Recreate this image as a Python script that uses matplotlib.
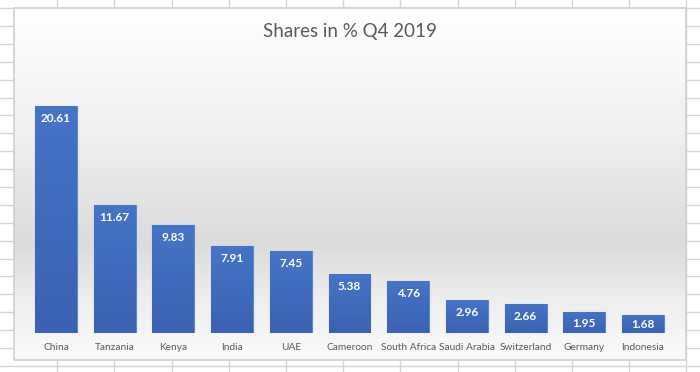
import numpy as np
import matplotlib
matplotlib.use("Agg")
import matplotlib.pyplot as plt
from matplotlib.colors import LinearSegmentedColormap
from matplotlib.patches import Rectangle

countries = ["China", "Tanzania", "Kenya", "India", "UAE", "Cameroon",
             "South Africa", "Saudi Arabia", "Switzerland", "Germany", "Indonesia"]
shares = [20.61, 11.67, 9.83, 7.91, 7.45, 5.38, 4.76, 2.96, 2.66, 1.95, 1.68]
title = "Shares in % Q4 2019"

W, H = 700, 372
plt.rcParams["font.family"] = ["Lato", "DejaVu Sans"]
fig = plt.figure(figsize=(W / 100, H / 100), dpi=100)

# spreadsheet grid behind the chart
bg = fig.add_axes([0, 0, 1, 1])
bg.set_xlim(0, W); bg.set_ylim(H, 0); bg.axis("off")
for x in np.arange(57.2, W, 57.2):
    bg.axvline(x, color="#d4d4d4", lw=1)
for y in np.arange(8.1, H, 17.89):
    bg.axhline(y, color="#d4d4d4", lw=1)

# chart area with soft vertical gradient
cx0, cy0, cx1, cy1 = 14, 8, 686, 360
stops = [(0.0, "#ffffff"), (0.37, "#efefef"), (0.67, "#dbdbdb"),
         (0.83, "#eeeeee"), (1.0, "#fafafa")]
cmap = LinearSegmentedColormap.from_list("bgc", stops)
grad = np.linspace(0, 1, 256).reshape(-1, 1)
bg.imshow(grad, cmap=cmap, extent=(cx0, cx1, cy1, cy0), aspect="auto", zorder=2)
bg.add_patch(Rectangle((cx0, cy0), cx1 - cx0, cy1 - cy0, fill=False,
                       ec="#d0d0d0", lw=1.2, zorder=3))
bg.set_xlim(0, W); bg.set_ylim(H, 0)
bg.text(350, 32, title, ha="center", va="center", fontsize=13.5,
        color="#595959", zorder=4)

# bars
ax = fig.add_axes([26.65 / W, (H - 333) / H, 645.7 / W, 275 / H])
ax.patch.set_alpha(0)
x = np.arange(len(countries))
bars = ax.bar(x, shares, width=0.715, color="#4472c4", ec="#5b86d2", lw=0.8, zorder=2)
bar_cmap = LinearSegmentedColormap.from_list("bar", ["#4674c6", "#3a62b2"])
for b in bars:
    bx, by, bw, bh = b.get_x(), b.get_y(), b.get_width(), b.get_height()
    im = ax.imshow(np.linspace(0, 1, 64).reshape(-1, 1), cmap=bar_cmap,
                   extent=(bx, bx + bw, by, by + bh), aspect="auto",
                   origin="upper", zorder=2.5)
    im.set_clip_path(b)
ax.set_xlim(-0.5, len(countries) - 0.5)
ax.set_ylim(0, 25)

# value labels just inside the bar top (centred for short bars)
px_per_unit = 275 / 25
for xi, v in zip(x, shares):
    off_px = min(12.5, v * px_per_unit / 2 + 1)
    ax.annotate(f"{v:.2f}", (xi, v), xytext=(0, -off_px * 0.72),
                textcoords="offset points", ha="center", va="center",
                color="white", fontsize=8.5, fontweight="bold", zorder=4)

ax.set_xticks(x, countries)
ax.tick_params(axis="x", length=0, pad=7, labelsize=7.3, labelcolor="#595959")
ax.set_yticks([])
for s in ax.spines.values():
    s.set_visible(False)

fig.savefig("out.png", dpi=100)
